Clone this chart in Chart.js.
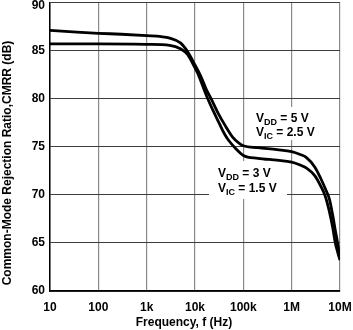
<!DOCTYPE html>
<html>
<head>
<meta charset="utf-8">
<script src="https://cdn.jsdelivr.net/npm/chart.js@4/dist/chart.umd.min.js"></script>
<style>
html,body{margin:0;padding:0;background:#fff;}
#wrap{width:353px;height:330px;}
</style>
</head>
<body>
<div id="wrap"><canvas id="c" width="353" height="330"></canvas></div>
<script>
// ---- data ----
const tickValues = [10, 100, 1000, 10000, 100000, 1000000, 10000000];
const tickLabels = ["10", "100", "1k", "10k", "100k", "1M", "10M"];
const yTicks = [60, 65, 70, 75, 80, 85, 90];

const freq5 = [10, 30, 100, 300, 1000, 2000, 3000, 5000, 7000, 10000, 13000, 17000, 22000, 30000, 41000, 60000, 80000, 100000, 200000, 500000, 1000000, 1500000, 2000000, 3000000, 4000000, 5000000, 6000000, 7000000, 8000000, 9000000, 10000000];
const cmrr5 = [87.1, 86.95, 86.8, 86.7, 86.55, 86.45, 86.3, 85.8, 84.9, 83.5, 82.4, 81.0, 79.9, 78.5, 77.3, 76.0, 75.4, 75.1, 74.9, 74.7, 74.5, 74.2, 73.9, 72.9, 71.7, 70.6, 69.6, 68.0, 66.3, 64.9, 63.5];

const freq3 = [10, 100, 1000, 3000, 5000, 7000, 10000, 11500, 14000, 18000, 24000, 32000, 40000, 49000, 70000, 100000, 200000, 500000, 1000000, 1500000, 2000000, 3000000, 4000000, 5000000, 6000000, 7000000, 8000000, 9000000, 10000000];
const cmrr3 = [85.7, 85.7, 85.65, 85.55, 85.2, 84.6, 83.2, 82.6, 81.5, 80.1, 78.7, 77.4, 76.4, 75.7, 74.8, 74.1, 73.8, 73.6, 73.4, 73.1, 72.8, 72.0, 70.9, 69.8, 68.3, 66.7, 65.0, 64.0, 63.2];

const seriesNames = ["VDD = 5 V, VIC = 2.5 V", "VDD = 3 V, VIC = 1.5 V"];
const xTitle = "Frequency, f (Hz)";
const yTitle = "Common-Mode Rejection Ratio,CMRR (dB)";
// annotation text split into [main, subscript, rest]
const note5 = [["V", "DD", " = 5 V"], ["V", "IC", " = 2.5 V"]];
const note3 = [["V", "DD", " = 3 V"], ["V", "IC", " = 1.5 V"]];

const toPts = (xs, ys) => xs.map((x, i) => ({x: x, y: ys[i]}));
const FONT = "'Liberation Sans', Arial, Helvetica, sans-serif";
const TICKFONT = {family: FONT, size: 12, weight: 'bold'};

function drawNote(ctx, lines, x, y0, dy) {
  lines.forEach((parts, li) => {
    let cx = x;
    const by = y0 + li * dy;
    ctx.font = "bold 12px " + FONT;
    ctx.fillText(parts[0], cx, by);
    cx += ctx.measureText(parts[0]).width;
    ctx.font = "bold 9px " + FONT;
    ctx.fillText(parts[1], cx, by + 3);
    cx += ctx.measureText(parts[1]).width;
    ctx.font = "bold 12px " + FONT;
    ctx.fillText(parts[2], cx, by);
  });
}

const yMax = yTicks[yTicks.length - 1];

const notesPlugin = {
  id: 'notes',
  beforeDatasetsDraw(chart) {
    const ctx = chart.ctx;
    ctx.save();
    ctx.fillStyle = '#fff';
    ctx.fillRect(250, 107, 68, 33);
    ctx.fillRect(209, 161, 78, 38);
    ctx.fillStyle = '#000';
    ctx.textBaseline = 'alphabetic';
    ctx.textAlign = 'left';
    drawNote(ctx, note5, 256, 122, 14);
    drawNote(ctx, note3, 218, 177, 15);
    ctx.restore();
  },
  afterDraw(chart) {
    const ctx = chart.ctx;
    const ys = chart.scales.y;
    ctx.save();
    ctx.fillStyle = '#000';
    // top tick label, kept inside the canvas
    ctx.font = "bold 12px " + FONT;
    ctx.textAlign = 'right';
    ctx.textBaseline = 'middle';
    ctx.fillText(String(yMax), ys.right - 5, Math.max(ys.getPixelForValue(yMax), 6));
    // axis titles
    ctx.textAlign = 'center';
    ctx.textBaseline = 'alphabetic';
    ctx.fillText(xTitle, 184, 326);
    ctx.translate(10.5, 163);
    ctx.rotate(-Math.PI / 2);
    ctx.fillText(yTitle, 0, 0);
    ctx.restore();
  }
};

new Chart(document.getElementById('c'), {
  type: 'line',
  data: {
    datasets: [
      {label: seriesNames[0], data: toPts(freq5, cmrr5)},
      {label: seriesNames[1], data: toPts(freq3, cmrr3)}
    ].map(d => Object.assign(d, {
      borderColor: '#000', borderWidth: 2.8, pointRadius: 0,
      cubicInterpolationMode: 'monotone', fill: false
    }))
  },
  options: {
    responsive: false,
    animation: false,
    layout: {padding: {left: 0, right: 13, top: 2.5, bottom: 0}},
    plugins: {legend: {display: false}, tooltip: {enabled: false}},
    scales: {
      x: {
        type: 'logarithmic', min: 10, max: 10000000,
        afterBuildTicks: s => { s.ticks = tickValues.map(v => ({value: v})); },
        afterFit: s => { s.height = 39; s.paddingLeft = 0; s.paddingRight = 0; },
        ticks: {
          autoSkip: false, maxRotation: 0, padding: 9, color: '#000',
          font: TICKFONT,
          callback: (v, i) => tickLabels[i]
        },
        grid: {color: '#8a8a8a', lineWidth: 1.2, drawTicks: false},
        border: {color: '#000', width: 1.5}
      },
      y: {
        min: 60, max: 90,
        afterBuildTicks: s => { s.ticks = yTicks.map(v => ({value: v})); },
        afterFit: s => { s.width = 50; s.paddingTop = 0; s.paddingBottom = 0; },
        ticks: {
          padding: 5, color: '#000',
          font: TICKFONT,
          callback: v => (v === yMax ? '' : String(v))
        },
        grid: {color: '#3c3c3c', lineWidth: 1, drawTicks: false},
        border: {color: '#000', width: 1.5}
      }
    }
  },
  plugins: [notesPlugin]
});
</script>
</body>
</html>
